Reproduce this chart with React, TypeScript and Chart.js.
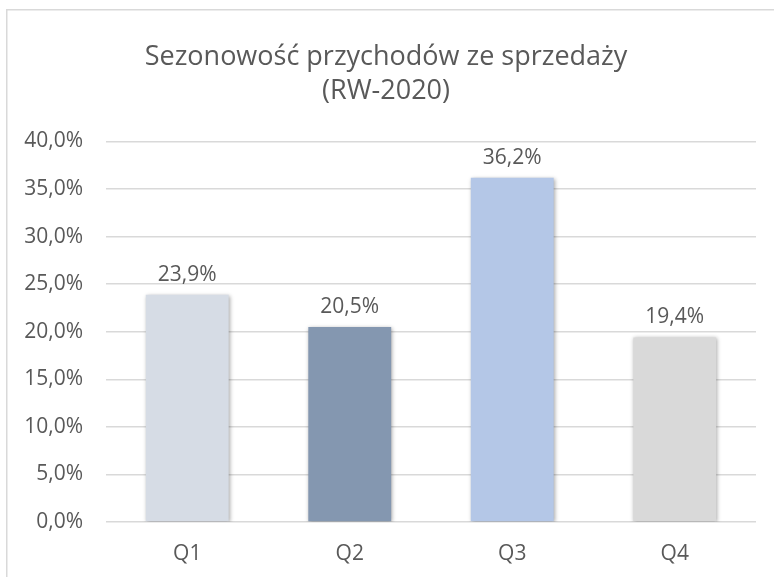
import React, { useEffect, useRef } from "react";
import { Chart, registerables } from "chart.js";

Chart.register(...registerables);

const titleLines = ["Sezonowość przychodów ze sprzedaży", "(RW-2020)"];
const categories = ["Q1", "Q2", "Q3", "Q4"];
const values = [23.9, 20.5, 36.2, 19.4];
const barColors = ["#D6DCE5", "#8497B0", "#B4C7E7", "#D9D9D9"];
const yMin = 0;
const yMax = 40;
const yStep = 5;

const fmt = (v: number) => v.toFixed(1).replace(".", ",") + "%";

const FONT = "'Open Sans', 'DejaVu Sans', sans-serif";
const TEXT = "#595959";

const borderPlugin = {
  id: "outerBorder",
  beforeDraw(chart: any) {
    const ctx = chart.ctx;
    ctx.save();
    ctx.fillStyle = "#ffffff";
    ctx.fillRect(0, 0, chart.width, chart.height);
    ctx.strokeStyle = "#D9D9D9";
    ctx.lineWidth = 1.5;
    ctx.strokeRect(6.75, 9.75, chart.width + 20, chart.height + 20);
    ctx.restore();
  },
};

const titlePlugin = {
  id: "customTitle",
  afterDraw(chart: any) {
    const ctx = chart.ctx;
    ctx.save();
    ctx.fillStyle = TEXT;
    ctx.font = `27px ${FONT}`;
    ctx.textAlign = "center";
    ctx.textBaseline = "alphabetic";
    const cx = 386;
    titleLines.forEach((line, i) => {
      ctx.fillText(line, cx, 65 + i * 34);
    });
    ctx.restore();
  },
};

const shadowPlugin = {
  id: "barShadow",
  beforeDatasetsDraw(chart: any) {
    const ctx = chart.ctx;
    ctx.save();
    ctx.shadowColor = "rgba(0,0,0,0.35)";
    ctx.shadowBlur = 4;
    ctx.shadowOffsetX = 1;
    ctx.shadowOffsetY = 1;
  },
  afterDatasetsDraw(chart: any) {
    chart.ctx.restore();
  },
};

const labelPlugin = {
  id: "valueLabels",
  afterDatasetsDraw(chart: any) {
    const ctx = chart.ctx;
    const meta = chart.getDatasetMeta(0);
    ctx.save();
    ctx.shadowColor = "rgba(0,0,0,0)";
    ctx.fillStyle = TEXT;
    ctx.font = `21px ${FONT}`;
    ctx.textAlign = "center";
    ctx.textBaseline = "alphabetic";
    meta.data.forEach((bar: any, i: number) => {
      ctx.fillText(fmt(values[i]), bar.x, bar.y - 14);
    });
    ctx.restore();
  },
};

export default function App() {
  const ref = useRef<HTMLCanvasElement | null>(null);

  useEffect(() => {
    document.body.style.margin = "0";
    const canvas = ref.current;
    if (!canvas) return;
    const chart = new Chart(canvas, {
      type: "bar",
      data: {
        labels: categories,
        datasets: [
          {
            data: values,
            backgroundColor: barColors,
            borderWidth: 0,
            categoryPercentage: 1,
            barPercentage: 0.51,
          },
        ],
      },
      options: {
        animation: false,
        responsive: false,
        devicePixelRatio: 1,
        layout: { padding: { left: 0, right: 18, top: 141.5, bottom: 0 } },
        plugins: {
          legend: { display: false },
          tooltip: { enabled: false },
          title: { display: false },
        },
        scales: {
          x: {
            grid: { display: false },
            border: { display: false },
            ticks: {
              color: TEXT,
              font: { family: FONT, size: 21 },
              padding: 11,
            },
            afterFit(scale: any) {
              scale.height = 55;
            },
          },
          y: {
            min: yMin,
            max: yMax,
            grid: { color: "#D9D9D9", lineWidth: 1.5, drawTicks: false },
            border: { display: false },
            ticks: {
              stepSize: yStep,
              color: TEXT,
              font: { family: FONT, size: 21 },
              padding: 23,
              callback: (v: any) => fmt(Number(v)),
            },
            afterFit(scale: any) {
              scale.width = 106;
            },
          },
        },
      },
      plugins: [borderPlugin, shadowPlugin, labelPlugin, titlePlugin],
    });
    return () => chart.destroy();
  }, []);

  return (
    <div style={{ width: 774, height: 577, overflow: "hidden" }}>
      <canvas ref={ref} width={774} height={577} style={{ display: "block" }} />
    </div>
  );
}
